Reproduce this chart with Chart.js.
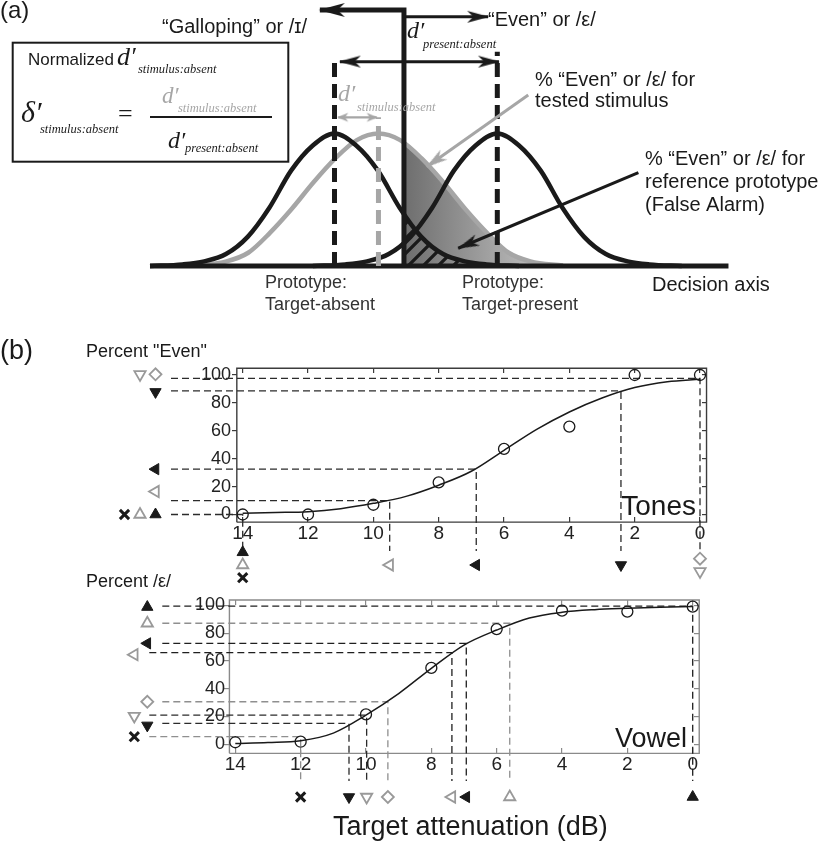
<!DOCTYPE html>
<html>
<head>
<meta charset="utf-8">
<script src="https://cdn.jsdelivr.net/npm/chart.js@4.4.1/dist/chart.umd.min.js"></script>
<style>
html, body { margin: 0; padding: 0; background: #ffffff; }
#fig { display: block; }
</style>
</head>
<body>
<canvas id="fig" width="826" height="844"></canvas>
<script>
// ======================================================
// DATA
// ======================================================

// (a) decision axis, in d' units: target-absent prototype at 0, target-present at 3
const PROFILE_OFFSET = [-3.4, -2.8, -2.4, -2.0, -1.6, -1.2, -0.8, -0.4, 0, 0.4, 0.8, 1.2, 1.6, 2.0, 2.4, 2.8, 3.4];
const BLACK_PROFILE = [0, 0.012, 0.035, 0.09, 0.22, 0.44, 0.72, 0.91, 1, 0.91, 0.72, 0.44, 0.22, 0.09, 0.035, 0.012, 0];
const GRAY_PROFILE = [0.004, 0.035, 0.1, 0.25, 0.43, 0.63, 0.81, 0.95, 1, 0.95, 0.81, 0.63, 0.43, 0.25, 0.1, 0.035, 0.004];
const ABSENT_MEAN = 0;
const STIMULUS_MEAN = 0.81;
const PRESENT_MEAN = 3;
const CRITERION = 1.28;
const AXIS_SPAN = [-3.4, 7.26];

// schematic guides of panel (a), [u, v] pairs on the decision axis
const CRITERION_ARROW = [[CRITERION, 0], [CRITERION, 1.932], [-0.27, 1.932]];
const EVEN_ARROW = [[CRITERION, 1.881], [2.83, 1.881]];
const PRESENT_LEFT_ARROW = [[CRITERION, 1.542], [0.1, 1.542]];
const PRESENT_RIGHT_ARROW = [[CRITERION, 1.542], [3.03, 1.542]];
const STIMULUS_ARROW = [[0.07, 1.122], [0.777, 1.122]];
const TESTED_POINTER = [[3.57, 1.291], [1.7, 0.749]];
const FALSE_ALARM_POINTER = [[5.6, 0.704], [2.28, 0.134]];
const DASH_TOPS = [1.568, 1.122, 1.617];

// (b) psychometric functions
const ATTEN_TICKS = [0, 2, 4, 6, 8, 10, 12, 14];
const PERCENT_TICKS = [0, 20, 40, 60, 80, 100];

const ATTEN_DB = [14, 12, 10, 8, 6, 4, 2, 0];
const TONES_PCT = [0, 0, 7, 23, 47, 63, 100, 100];
const VOWEL_PCT = [1.4, 1.8, 21.5, 55, 83, 96.3, 95.6, 99.2];

const FIT_DB = [14, 13, 12, 11, 10, 9, 8, 7, 6, 5, 4, 3, 2, 1, 0];
const TONES_FIT = [0.9, 1.4, 2, 4.2, 8, 13, 21, 31, 46, 61, 73.5, 83.5, 91, 95.2, 97];
const VOWEL_FIT = [0.5, 1.2, 2.5, 8, 21, 36.5, 54.7, 71.5, 82.3, 91, 95.1, 97, 98, 98.8, 99.2];

const TONES_STIM = ["upFilled", "upOpen", "cross", "leftOpen", "leftFilled", "downFilled", "diamond", "downOpen"];
const TONES_STIM_PCT = [0, 0, 0, 10, 32.5, 88.6, 97.6, 97.6];
const TONES_STIM_DB = [14, 14, 14, 9.5, 6.85, 2.42, 0, 0];

const VOWEL_STIM = ["upFilled", "upOpen", "leftFilled", "leftOpen", "diamond", "downOpen", "downFilled", "cross"];
const VOWEL_STIM_PCT = [99.6, 87.2, 72.7, 66, 30.6, 21, 15, 5.4];
const VOWEL_STIM_DB = [0, 5.6, 6.93, 7.37, 9.33, 9.98, 10.52, 12];

// ======================================================
// STYLE / LAYOUT
// ======================================================

const SANS = "'Liberation Sans', Arial, Helvetica, 'DejaVu Sans', sans-serif";
const SERIF = "'Liberation Serif', 'Times New Roman', 'DejaVu Serif', serif";
const INK = "#1a1a1a";
const GRAY = "#a6a6a6";
const MARK_GRAY = "#999999";
const GUIDE_GRAY = "#8f8f8f";

// anchors: [value1, pixel1, value2, pixel2]
const LAYOUT = {
    A: { x: [0, 334.5, 3, 497.3], y: [0, 266, 1, 133.5] },
    T: {
        x: [14, 242.7, 0, 700], y: [0, 514.5, 100, 375],
        frame: { x: [14.18, -0.2], y: [-5.5, 104.8] },
        frameColor: "#3c3c3c", labelRightPx: 231,
        leftColPx: 155.5, slotShiftPx: 15.5, lineGapPx: 15.5,
        bottomBasePx: 565, rowGapPx: 12.7, lineEndPx: 551,
        leftSlot: [0, 1, 2, 0, 0, 0, 0, 1],
        bottomRow: [0, 1, 2, 0, 0, 0, 0, 1],
        leftDyPx: [0, 0, 0, -9, 0, 1, -4, -4],
        guideColor: ["#2b2b2b", "#2b2b2b", "#2b2b2b", "#2b2b2b", "#2b2b2b", "#2b2b2b", "#2b2b2b", "#2b2b2b"]
    },
    V: {
        x: [14, 235.3, 0, 692.7], y: [0, 744.2, 100, 605.5],
        frame: { x: [14.18, -0.2], y: [-6.6, 104] },
        frameColor: "#8a8a8a", labelRightPx: 225,
        leftColPx: 147.3, slotShiftPx: 13, lineGapPx: 15,
        bottomBasePx: 797, rowGapPx: 13, lineEndPx: 781,
        leftSlot: [0, 0, 0, 1, 0, 1, 0, 1],
        bottomRow: [0, 0, 0, 0, 0, 0, 0, 0],
        leftDyPx: [1, 0, 0, 2, 0, 1, 2, 0],
        guideColor: ["#1f1f1f", GUIDE_GRAY, "#1f1f1f", "#1f1f1f", GUIDE_GRAY, "#2b2b2b", "#2b2b2b", GUIDE_GRAY]
    }
};

const MARKS = {
    upFilled:   { style: "triangle", rot: 0,   bg: INK, line: INK, w: 1, r: 6.5 },
    upOpen:     { style: "triangle", rot: 0,   bg: "rgba(0,0,0,0)", line: MARK_GRAY, w: 1.8, r: 6.5 },
    downFilled: { style: "triangle", rot: 180, bg: INK, line: INK, w: 1, r: 6.5 },
    downOpen:   { style: "triangle", rot: 180, bg: "rgba(0,0,0,0)", line: MARK_GRAY, w: 1.8, r: 6.5 },
    leftFilled: { style: "triangle", rot: -90, bg: INK, line: INK, w: 1, r: 6.5 },
    leftOpen:   { style: "triangle", rot: -90, bg: "rgba(0,0,0,0)", line: MARK_GRAY, w: 1.8, r: 6.5 },
    diamond:    { style: "rectRot",  rot: 0,   bg: "rgba(0,0,0,0)", line: MARK_GRAY, w: 1.8, r: 6 },
    cross:      { style: "crossRot", rot: 0,   bg: INK, line: INK, w: 3, r: 6.5 }
};

function valueAt(anchor, px) {
    return anchor[0] + (px - anchor[1]) * (anchor[2] - anchor[0]) / (anchor[3] - anchor[1]);
}

function unitsPerPx(anchor) {
    return (anchor[2] - anchor[0]) / (anchor[3] - anchor[1]);
}

// ======================================================
// FILL STYLES (panel a)
// ======================================================

function grayShade(c) {
    const chart = c.chart;
    const area = chart.chartArea;
    if (!area || !chart.scales.xA) return "rgba(0,0,0,0)";
    const d = chart.scales.xA.getPixelForValue(CRITERION);
    const w = area.right - area.left;
    const t1 = Math.min(Math.max((d - area.left) / w, 0), 1);
    const t2 = Math.min(Math.max((d + 150 - area.left) / w, 0), 1);
    const g = chart.ctx.createLinearGradient(area.left, 0, area.right, 0);
    g.addColorStop(0, "rgba(110,110,110,0)");
    g.addColorStop(t1, "rgba(110,110,110,0)");
    g.addColorStop(t1, "#6e6e6e");
    g.addColorStop(t2, "#c8c8c8");
    g.addColorStop(1, "#c8c8c8");
    return g;
}

let hatchCache = null;

function hatchFill(c) {
    const chart = c.chart;
    if (!chart.chartArea || !chart.scales.xA) return "rgba(0,0,0,0)";
    const d = chart.scales.xA.getPixelForValue(CRITERION);
    const key = Math.round(d) + ":" + chart.width + ":" + chart.height;
    if (!hatchCache || hatchCache.key !== key) {
        const cv = document.createElement("canvas");
        cv.width = chart.width;
        cv.height = chart.height;
        const g = cv.getContext("2d");
        g.strokeStyle = INK;
        g.lineWidth = 3.2;
        g.beginPath();
        for (let x0 = d - chart.height; x0 < chart.width; x0 += 15) {
            g.moveTo(x0, chart.height);
            g.lineTo(x0 + chart.height, 0);
        }
        g.stroke();
        g.clearRect(0, 0, d, chart.height);
        hatchCache = { key: key, pattern: chart.ctx.createPattern(cv, "no-repeat") };
    }
    return hatchCache.pattern;
}

// ======================================================
// ARROW HEADS
// ======================================================

function headImage(len, half, color) {
    const size = Math.ceil(2 * len + 6);
    const cv = document.createElement("canvas");
    cv.width = size;
    cv.height = size;
    const g = cv.getContext("2d");
    const m = size / 2;
    g.fillStyle = color;
    g.beginPath();
    g.moveTo(m + 1, m);
    g.lineTo(m + 1 - len, m - half);
    g.lineTo(m + 1 - len * 0.72, m);
    g.lineTo(m + 1 - len, m + half);
    g.closePath();
    g.fill();
    return cv;
}

const HEAD_BIG = headImage(26, 7, INK);
const HEAD_MID = headImage(22, 6, INK);
const HEAD_GRAY_SMALL = headImage(11, 4.5, GRAY);
const HEAD_GRAY = headImage(22, 6, GRAY);

function headAngle(c) {
    if (c.dataIndex === undefined) return 0;
    const pts = c.dataset.data;
    const i = c.dataIndex;
    const j = i === 0 ? 1 : i - 1;
    const xs = c.chart.scales[c.dataset.xAxisID];
    const ys = c.chart.scales[c.dataset.yAxisID];
    if (!xs || !ys || !pts[j]) return 0;
    const dx = xs.getPixelForValue(pts[i].x) - xs.getPixelForValue(pts[j].x);
    const dy = ys.getPixelForValue(pts[i].y) - ys.getPixelForValue(pts[j].y);
    return Math.atan2(dy, dx) * 180 / Math.PI;
}

function arrow(points, head, color, width, both) {
    const n = points.length;
    return {
        xAxisID: "xA", yAxisID: "yA", showLine: true, clip: false,
        data: points.map(function (p) { return { x: p[0], y: p[1] }; }),
        borderColor: color, borderWidth: width, borderJoinStyle: "miter",
        pointRadius: points.map(function (p, i) { return (i === n - 1 || (both && i === 0)) ? 4 : 0; }),
        pointStyle: head, pointRotation: headAngle, pointBorderWidth: 0,
        order: 20
    };
}

function bell(center, profile) {
    return PROFILE_OFFSET.map(function (o, i) { return { x: center + o, y: profile[i] }; });
}

function line(xId, yId, data, color, width, extra) {
    return Object.assign({
        xAxisID: xId, yAxisID: yId, showLine: true, clip: false,
        data: data, borderColor: color, borderWidth: width,
        pointRadius: 0, order: 30
    }, extra || {});
}

// ======================================================
// DATASETS
// ======================================================

const datasets = [];

// panel (a)
datasets.push(line("xA", "yA", bell(STIMULUS_MEAN, GRAY_PROFILE), "rgba(0,0,0,0)", 0, {
    fill: "origin", backgroundColor: grayShade, cubicInterpolationMode: "monotone", order: 100
}));
datasets.push(line("xA", "yA", bell(ABSENT_MEAN, BLACK_PROFILE), "rgba(0,0,0,0)", 0, {
    fill: "origin", backgroundColor: hatchFill, cubicInterpolationMode: "monotone", order: 99
}));
datasets.push(line("xA", "yA", bell(STIMULUS_MEAN, GRAY_PROFILE), GRAY, 4.5, {
    cubicInterpolationMode: "monotone", order: 80
}));
datasets.push(line("xA", "yA", bell(ABSENT_MEAN, BLACK_PROFILE), INK, 4.5, {
    cubicInterpolationMode: "monotone", order: 75
}));
datasets.push(line("xA", "yA", bell(PRESENT_MEAN, BLACK_PROFILE), INK, 4.5, {
    cubicInterpolationMode: "monotone", order: 75
}));
datasets.push(line("xA", "yA", [{ x: AXIS_SPAN[0], y: 0 }, { x: AXIS_SPAN[1], y: 0 }], INK, 5, { order: 70 }));

[[ABSENT_MEAN, INK, DASH_TOPS[0]], [STIMULUS_MEAN, GRAY, DASH_TOPS[1]], [PRESENT_MEAN, INK, DASH_TOPS[2]]].forEach(function (d) {
    datasets.push(line("xA", "yA", [{ x: d[0], y: 0 }, { x: d[0], y: d[2] }], d[1], 5, {
        borderDash: [14, 7], order: 60
    }));
});

datasets.push(arrow(CRITERION_ARROW, HEAD_BIG, INK, 5, false));
datasets.push(arrow(EVEN_ARROW, HEAD_MID, INK, 3, false));
datasets.push(arrow(PRESENT_LEFT_ARROW, HEAD_MID, INK, 3, false));
datasets.push(arrow(PRESENT_RIGHT_ARROW, HEAD_MID, INK, 3, false));
datasets.push(arrow(STIMULUS_ARROW, HEAD_GRAY_SMALL, GRAY, 2.2, true));
datasets.push(arrow(TESTED_POINTER, HEAD_GRAY, GRAY, 3, false));
datasets.push(arrow(FALSE_ALARM_POINTER, HEAD_MID, INK, 3, false));

// panel (b)
function panelDatasets(P, pct, fit, stim, stimPct, stimDb) {
    const L = LAYOUT[P];
    const xId = "x" + P;
    const yId = "y" + P;
    const dbPerPx = unitsPerPx(L.x);
    const pctPerPx = unitsPerPx(L.y);
    const fx = L.frame.x;
    const fy = L.frame.y;

    datasets.push(line(xId, yId, [
        { x: fx[0], y: fy[0] }, { x: fx[1], y: fy[0] }, { x: fx[1], y: fy[1] },
        { x: fx[0], y: fy[1] }, { x: fx[0], y: fy[0] }
    ], L.frameColor, 1.4, { borderJoinStyle: "miter", order: 45 }));

    const guideEnd = valueAt(L.y, L.lineEndPx);
    stim.forEach(function (s, i) {
        const leftPx = L.leftColPx - L.leftSlot[i] * L.slotShiftPx;
        const leftX = valueAt(L.x, leftPx);
        let dup = false;
        for (let k = 0; k < i; k++) {
            if (stimPct[k] === stimPct[i] && stimDb[k] === stimDb[i]) dup = true;
        }
        if (!dup) {
            const startX = valueAt(L.x, leftPx + L.lineGapPx);
            datasets.push(line(xId, yId, [
                { x: startX, y: stimPct[i] }, { x: stimDb[i], y: stimPct[i] }, { x: stimDb[i], y: guideEnd }
            ], L.guideColor[i], 1.3, { borderDash: [7, 4], order: 40 }));
        }
        const stack = stimDb.filter(function (v) { return v === stimDb[i]; }).length;
        const rowPx = L.bottomBasePx + (L.bottomRow[i] - (stack - 1) / 2) * L.rowGapPx;
        const m = MARKS[s];
        datasets.push({
            xAxisID: xId, yAxisID: yId, clip: false, showLine: false,
            data: [
                { x: leftX, y: stimPct[i] + L.leftDyPx[i] * pctPerPx },
                { x: stimDb[i], y: valueAt(L.y, rowPx) }
            ],
            pointStyle: m.style, pointRotation: m.rot, pointRadius: m.r,
            pointBackgroundColor: m.bg, pointBorderColor: m.line, pointBorderWidth: m.w,
            order: 10
        });
    });

    datasets.push(line(xId, yId, FIT_DB.map(function (d, i) { return { x: d, y: fit[i] }; }), INK, 1.5, {
        cubicInterpolationMode: "monotone", order: 30
    }));

    datasets.push({
        xAxisID: xId, yAxisID: yId, clip: false, showLine: false,
        data: ATTEN_DB.map(function (d, i) { return { x: d, y: pct[i] }; }),
        pointStyle: "circle", pointRadius: 5.5,
        pointBackgroundColor: "rgba(0,0,0,0)", pointBorderColor: INK, pointBorderWidth: 1.3,
        order: 20
    });
}

panelDatasets("T", TONES_PCT, TONES_FIT, TONES_STIM, TONES_STIM_PCT, TONES_STIM_DB);
panelDatasets("V", VOWEL_PCT, VOWEL_FIT, VOWEL_STIM, VOWEL_STIM_PCT, VOWEL_STIM_DB);

// ======================================================
// SCALES
// ======================================================

function tickList(list) {
    return function (axis) {
        axis.ticks = list.map(function (v) { return { value: v }; });
    };
}

function panelScales(P) {
    const L = LAYOUT[P];
    const grid = { display: true, drawOnChartArea: false, drawTicks: true, tickLength: 5, color: L.frameColor, lineWidth: 1.2 };
    const s = {};
    const xPos = {}; xPos["y" + P] = L.frame.y[0];
    const xTopPos = {}; xTopPos["y" + P] = L.frame.y[1];
    const yPos = {}; yPos["x" + P] = L.frame.x[0];
    const yRightPos = {}; yRightPos["x" + P] = L.frame.x[1];
    const yLabPos = {}; yLabPos["x" + P] = valueAt(L.x, L.labelRightPx);

    s["x" + P] = {
        type: "linear", axis: "x", position: xPos, afterBuildTicks: tickList(ATTEN_TICKS),
        grid: Object.assign({}, grid, { tickLength: -5 }), border: { display: false },
        ticks: { color: "#222222", font: { size: 19 }, padding: 5, autoSkip: false, maxRotation: 0 }
    };
    s["x" + P + "top"] = {
        type: "linear", axis: "x", position: xTopPos, afterBuildTicks: tickList(ATTEN_TICKS),
        grid: grid, border: { display: false }, ticks: { display: false }
    };
    s["y" + P] = {
        type: "linear", axis: "y", position: yPos, afterBuildTicks: tickList(PERCENT_TICKS),
        grid: grid, border: { display: false }, ticks: { display: false }
    };
    s["y" + P + "right"] = {
        type: "linear", axis: "y", position: yRightPos, afterBuildTicks: tickList(PERCENT_TICKS),
        grid: grid, border: { display: false }, ticks: { display: false }
    };
    s["y" + P + "lab"] = {
        type: "linear", axis: "y", position: yLabPos, afterBuildTicks: tickList(PERCENT_TICKS),
        grid: { display: false, drawTicks: false }, border: { display: false },
        ticks: { color: "#222222", font: { size: 18 }, padding: 0, autoSkip: false }
    };
    return s;
}

const scales = Object.assign(
    {
        xA: { type: "linear", axis: "x", display: false },
        yA: { type: "linear", axis: "y", display: false }
    },
    panelScales("T"),
    panelScales("V")
);

function fitRanges(target, area) {
    Object.keys(target).forEach(function (id) {
        const L = LAYOUT[id.charAt(1)];
        const s = target[id];
        if (id.charAt(0) === "x") {
            const a = valueAt(L.x, area.left);
            const b = valueAt(L.x, area.right);
            s.reverse = a > b;
            s.min = Math.min(a, b);
            s.max = Math.max(a, b);
        } else {
            s.min = valueAt(L.y, area.bottom);
            s.max = valueAt(L.y, area.top);
        }
    });
}

fitRanges(scales, { left: 0, right: 826, top: 0, bottom: 844 });

// ======================================================
// TEXT
// ======================================================

const TEXTS = [
    ["(a)", 0, 17.5, "24px " + SANS],
    ["“Galloping” or /ɪ/", 162, 33, "20px " + SANS],
    ["“Even” or /ε/", 488, 26, "20px " + SANS],
    ["d′", 407, 38, "italic 24px " + SERIF],
    ["present:absent", 423, 48, "italic 12.5px " + SERIF],
    ["d′", 338, 101, "italic 24px " + SERIF, GRAY],
    ["stimulus:absent", 357, 111, "italic 12.5px " + SERIF, GRAY],
    ["% “Even” or /ε/ for", 535, 86, "20px " + SANS],
    ["tested stimulus", 535, 107, "20px " + SANS],
    ["% “Even” or /ε/ for", 645, 165, "20px " + SANS],
    ["reference prototype", 645, 188, "20px " + SANS],
    ["(False Alarm)", 645, 211, "20px " + SANS],
    ["Prototype:", 265, 288, "18px " + SANS, "#333333"],
    ["Target-absent", 265, 310, "18px " + SANS, "#333333"],
    ["Prototype:", 462, 288, "18px " + SANS, "#333333"],
    ["Target-present", 462, 310, "18px " + SANS, "#333333"],
    ["Decision axis", 652, 291, "20px " + SANS],
    ["Normalized", 28, 65, "17px " + SANS],
    ["d′", 117, 65, "italic 26px " + SERIF],
    ["stimulus:absent", 138, 73, "italic 12.5px " + SERIF],
    ["δ′", 21, 122, "italic 30px " + SERIF],
    ["stimulus:absent", 40, 133, "italic 12.5px " + SERIF],
    ["=", 118, 122, "26px " + SERIF],
    ["d′", 162, 103, "italic 23px " + SERIF, GRAY],
    ["stimulus:absent", 178, 112, "italic 12.5px " + SERIF, GRAY],
    ["d′", 168, 148, "italic 24px " + SERIF],
    ["present:absent", 185, 152, "italic 12.5px " + SERIF],
    ["(b)", 0, 359, "27px " + SANS],
    ["Percent \"Even\"", 86, 357, "18px " + SANS],
    ["Percent /ε/", 86, 587, "18px " + SANS],
    ["Tones", 696, 515, "28px " + SANS, INK, "right"],
    ["Vowel", 687, 747, "27px " + SANS, INK, "right"],
    ["Target attenuation (dB)", 333, 835, "27px " + SANS]
];

const annotations = {
    id: "annotations",
    afterDraw(chart) {
        const ctx = chart.ctx;
        ctx.save();
        ctx.strokeStyle = INK;
        ctx.lineWidth = 2;
        ctx.strokeRect(12.7, 42.7, 275.6, 119);
        ctx.beginPath();
        ctx.moveTo(150, 117);
        ctx.lineTo(272, 117);
        ctx.stroke();
        ctx.textBaseline = "alphabetic";
        TEXTS.forEach(function (t) {
            ctx.font = t[3];
            ctx.fillStyle = t[4] || INK;
            ctx.textAlign = t[5] || "left";
            ctx.fillText(t[0], t[1], t[2]);
        });
        ctx.restore();
    }
};

// ======================================================
// CHART
// ======================================================

Chart.defaults.font.family = SANS;

const canvas = document.getElementById("fig");

const chart = new Chart(canvas.getContext("2d"), {
    type: "scatter",
    data: { datasets: datasets },
    options: {
        responsive: false,
        animation: false,
        events: [],
        layout: { padding: 0, autoPadding: false },
        plugins: {
            legend: { display: false },
            tooltip: { enabled: false },
            title: { display: false }
        },
        scales: scales
    },
    plugins: [annotations]
});

// match the scales to the chart area the layout actually gave
fitRanges(chart.options.scales, chart.chartArea);
chart.update("none");
</script>
</body>
</html>
